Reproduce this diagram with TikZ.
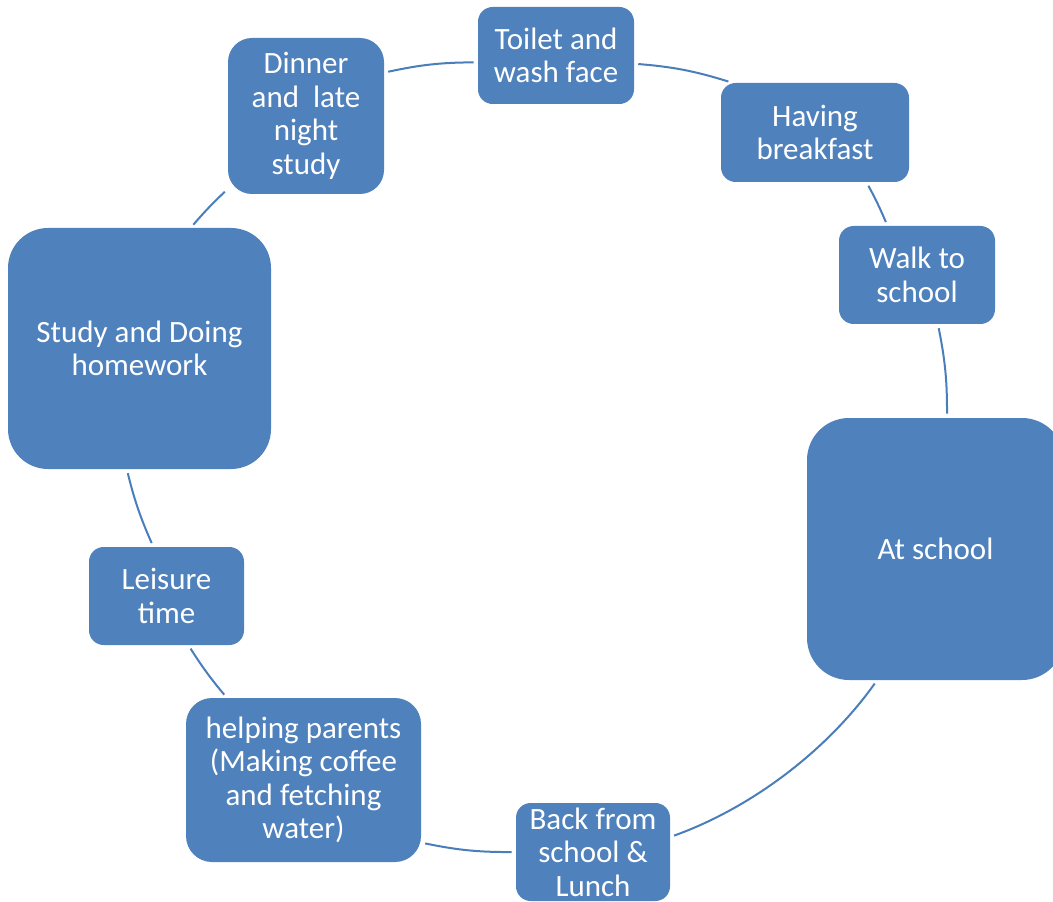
\documentclass[tikz,border=0pt]{standalone}
\usepackage{fontspec}
\setmainfont{Carlito}
\definecolor{boxblue}{HTML}{4F81BD}
\definecolor{lineblue}{HTML}{4A7EBB}
\begin{document}
\begin{tikzpicture}[x=0.75pt,y=0.75pt,
  box/.style={rectangle, fill=boxblue, draw=none, text=white, align=center, inner sep=0pt,
    font=\fontsize{23.25}{25.1}\selectfont},
  small/.style={box, rounded corners=11pt, minimum height=73.5pt},
  conn/.style={draw=lineblue, line width=1.5pt, shorten <=3pt, shorten >=3pt}]
\useasboundingbox (0,0) rectangle (1053,-902);
\clip (0,0) rectangle (1053,-902);
\node[small, minimum width=117pt, minimum height=72.75pt] (n1) at (556,-55.5) {Toilet and\\wash face};
\node[small, minimum width=141pt, minimum height=74.25pt] (n2) at (815,-132.5) {Having\\breakfast};
\node[small, minimum width=117pt] (n3) at (917,-275) {Walk to\\school};
\node[box, rounded corners=31.5pt, minimum width=192.75pt, minimum height=196.5pt] (n4) at (935.5,-549) {At school};
\node[small, minimum width=115.5pt] (n5) at (593,-852) {Back from\\school \&\\Lunch};
\node[box, rounded corners=19.5pt, minimum width=176.25pt, minimum height=123pt] (n6) at (303.5,-780) {helping parents\\(Making coffee\\and fetching\\water)};
\node[small, minimum width=116.25pt] (n7) at (166.5,-596) {Leisure\\time};
\node[box, rounded corners=30pt, minimum width=197.25pt, minimum height=180.75pt] (n8) at (139.5,-348.5) {Study and Doing\\homework};
\node[box, rounded corners=18pt, minimum width=117pt, minimum height=117pt] (n9) at (306,-116) {Dinner\\and\ \ late\\night\\study};
\draw[conn] (n9.29) to[bend left=6] (n1.185);
\draw[conn] (n1.354) to[bend left=6.4] (n2.149);
\draw[conn] (n2.316) to[bend left=2.7] (n3.121);
\draw[conn] (n3.293) to[bend left=5.8] (n4.85);
\draw[conn] (n4.246) to[bend left=17.4, looseness=0.85] (n5.11);
\draw[conn] (n5.180) to[bend left=6] (n6.332);
\draw[conn] (n6.133) to[bend left=3.7] (n7.294);
\draw[conn] (n7.105) to[bend left=5] (n8.264);
\draw[conn] (n8.67) to[bend left=3] (n9.223);
\end{tikzpicture}
\end{document}
